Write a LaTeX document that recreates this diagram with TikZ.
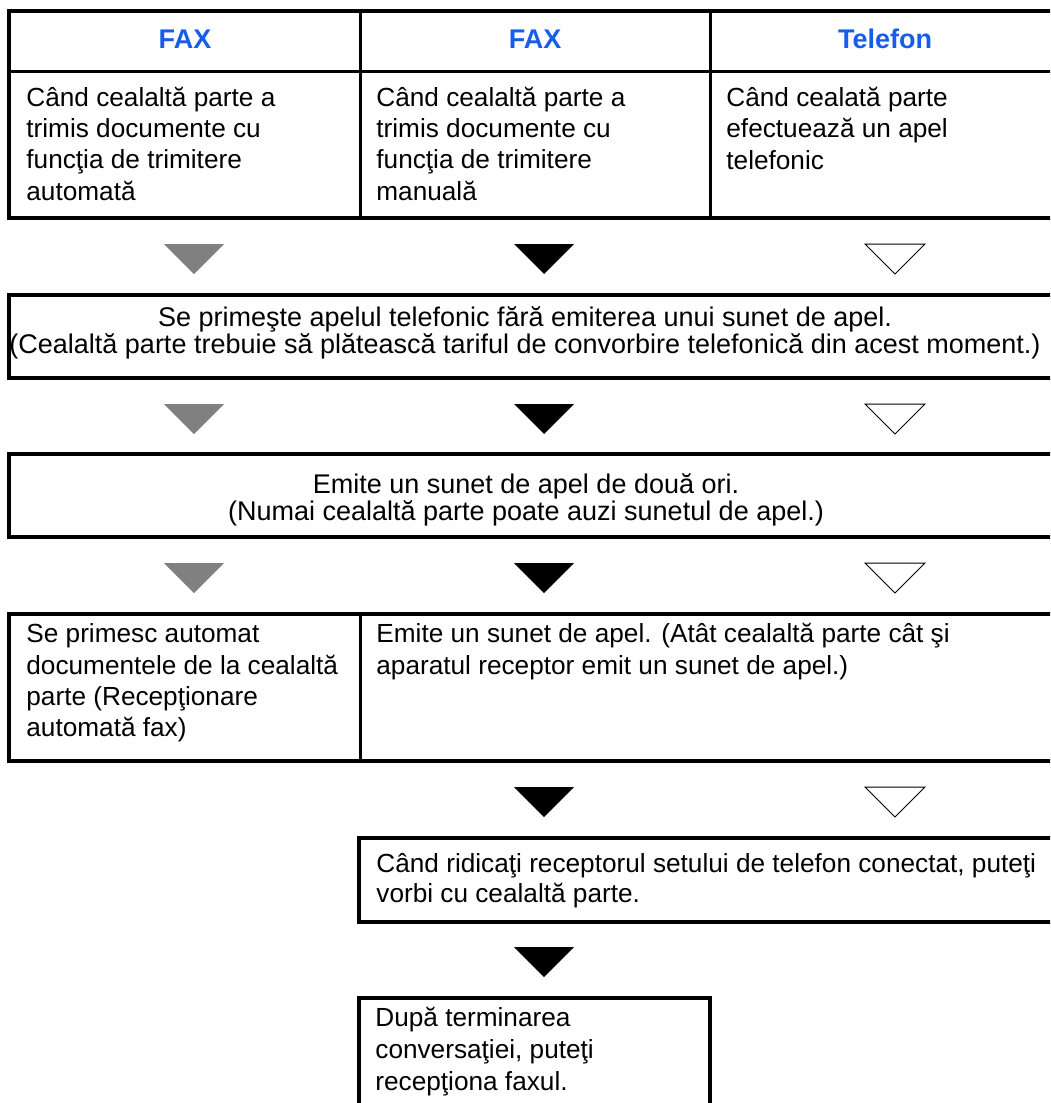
\documentclass[tikz,border=0pt]{standalone}
\usepackage{fontspec}
\setmainfont{Liberation Sans}
\usepackage{xcolor}
\definecolor{myblue}{RGB}{22, 94, 232}
\definecolor{mygray}{RGB}{128, 128, 128}

\begin{document}
\begin{tikzpicture}[x=0.5pt,y=-0.5pt,
  boxline/.style={line width=1.8pt},
  sepline/.style={line width=1.5pt},
  txt/.style={inner sep=0pt, anchor=base west, align=left, font=\fontsize{13.1}{15.6}\selectfont},
  ctxt/.style={inner sep=0pt, anchor=base, align=center, font=\fontsize{13.5}{13.3}\selectfont},
  head/.style={inner sep=0pt, anchor=base, text=myblue, font=\fontsize{13.5}{16}\selectfont\bfseries}]
  \def\R{1062}
  \def\cA{194}
  \def\cB{544}
  \def\cC{895}
  \useasboundingbox (0,0) rectangle (1050,1103);
  \clip (0,0) rectangle (1050,1103);

  %Table on top (text nodes sit on the baseline of their last line)
  \draw[boxline] (9,11) rectangle (\R,218);
  \draw[sepline] (9,71) -- (\R,71);
  \draw[sepline] (360,11) -- (360,218);
  \draw[sepline] (710,11) -- (710,218);
  \node[head] (fax1) at (185,48) {FAX};
  \node[head] (fax2) at (535,48) {FAX};
  \node[head] (tel) at (885,48) {Telefon};
  \node[txt] (autosend) at (26,200) {Când cealaltă parte a\\trimis documente cu\\funcţia de trimitere\\automată};
  \node[txt] (mansend) at (376,200) {Când cealaltă parte a\\trimis documente cu\\funcţia de trimitere\\manuală};
  \node[txt] (call) at (726,169) {Când cealată parte\\efectuează un apel\\telefonic};

  %Triangles (gray: auto fax, black: manual fax, white: phone)
  \foreach \ty in {244,404,563}
  {
    \fill[mygray] (\cA-30,\ty) -- (\cA+30,\ty) -- (\cA,\ty+30) -- cycle;
  }
  \foreach \ty in {244,404,563,787,947}
  {
    \fill[black] (\cB-30,\ty) -- (\cB+30,\ty) -- (\cB,\ty+30) -- cycle;
  }
  \foreach \ty in {244,404,563,787}
  {
    \draw[line width=0.5pt,fill=white] (\cC-30,\ty) -- (\cC+30,\ty) -- (\cC,\ty+30) -- cycle;
  }

  %Boxes
  \draw[boxline] (9,295) rectangle (\R,378);
  \node[ctxt] (silent) at (525,353.5) {Se primeşte apelul telefonic fără emiterea unui sunet de apel.\\(Cealaltă parte trebuie să plătească tariful de convorbire telefonică din acest moment.)};

  \draw[boxline] (9,454) rectangle (\R,537);
  \node[ctxt] (twice) at (526,520) {Emite un sunet de apel de două ori.\\(Numai cealaltă parte poate auzi sunetul de apel.)};

  \draw[boxline] (9,614) rectangle (\R,761);
  \draw[sepline] (360,614) -- (360,761);
  \node[txt] (autorx) at (26,736.5) {Se primesc automat\\documentele de la cealaltă\\parte (Recepţionare\\automată fax)};
  \node[txt] (ring) at (376,674) {Emite un sunet de apel. (Atât cealaltă parte cât şi\\aparatul receptor emit un sunet de apel.)};

  \draw[boxline] (359,838) rectangle (\R,922);
  \node[txt,font=\fontsize{13.1}{15}\selectfont] (talk) at (376,902) {Când ridicaţi receptorul setului de telefon conectat, puteţi\\vorbi cu cealaltă parte.};

  \draw[boxline] (359,998) rectangle (710,1115);
  \node[txt,font=\fontsize{13.1}{16}\selectfont] (faxrx) at (375,1090) {După terminarea\\conversaţiei, puteţi\\recepţiona faxul.};

\end{tikzpicture}
\end{document}
